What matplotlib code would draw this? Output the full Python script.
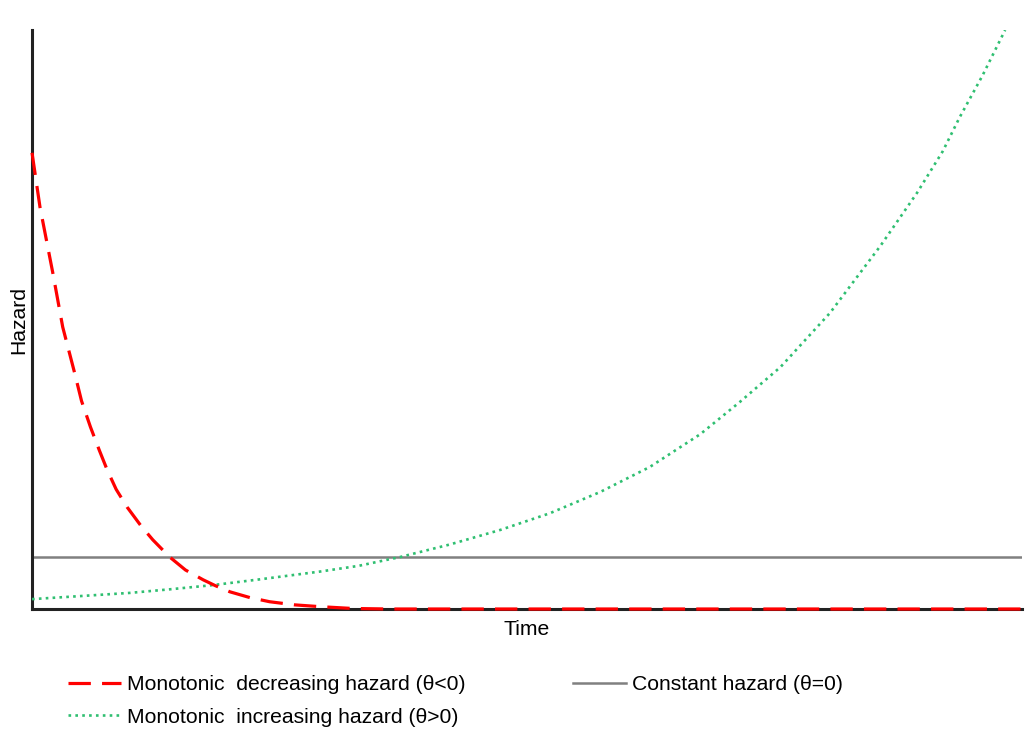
import matplotlib.pyplot as plt

plt.rcParams['font.family'] = ['Liberation Sans', 'DejaVu Sans']

t_dec = [0.0, 0.08, 0.21, 0.31, 0.43, 0.5, 0.59, 0.68, 0.76, 0.85, 0.96, 1.1,
         1.22, 1.39, 1.55, 1.73, 1.85, 2.0, 2.2, 2.4, 2.65, 2.91, 3.24, 3.6, 10.0]
h_dec = [8.77, 7.73, 6.46, 5.42, 4.54, 4.0, 3.50, 3.05, 2.67, 2.3, 1.96, 1.6,
         1.33, 1.00, 0.75, 0.56, 0.45, 0.33, 0.22, 0.14, 0.08, 0.045, 0.01, 0.0, 0.0]

t_inc = [0.0, 0.5, 0.99, 1.4, 1.83, 2.3, 2.91, 3.3, 3.72, 4.22, 4.73, 5.23,
         5.74, 6.24, 6.75, 7.15, 7.56, 8.06, 8.57, 8.94, 9.2, 9.37, 9.6, 9.83]
h_inc = [0.19, 0.25, 0.31, 0.38, 0.46, 0.57, 0.72, 0.83, 1.0, 1.24, 1.52, 1.84,
         2.25, 2.73, 3.36, 3.98, 4.65, 5.69, 6.98, 8.0, 8.8, 9.45, 10.25, 11.13]

t_const = [0.0, 10.0]
h_const = [1.0, 1.0]

fig = plt.figure(figsize=(10.3, 7.29), dpi=100)
ax = fig.add_axes([0.0311, 0.1646, 0.9611, 0.7942])

l_dec, = ax.plot(t_dec, h_dec, color='#ff0000', lw=2.3, ls=(0, (7, 3.5)),
                 zorder=4, clip_on=False, label='Monotonic  decreasing hazard (θ<0)')
l_const, = ax.plot(t_const, h_const, color='#808080', lw=1.8, zorder=2,
                   label='Constant hazard (θ=0)')
l_inc, = ax.plot(t_inc, h_inc, color='#2fbf71', lw=1.9, ls=(0, (1, 1.6)),
                 zorder=3, label='Monotonic  increasing hazard (θ>0)')

ax.set_xlim(0, 10)
ax.set_ylim(0, 11.13)
ax.set_xticks([])
ax.set_yticks([])
for s in ['top', 'right']:
    ax.spines[s].set_visible(False)
for s in ['left', 'bottom']:
    ax.spines[s].set_linewidth(2.2)
    ax.spines[s].set_color('#222222')

ax.set_xlabel('Time', fontsize=15.2, labelpad=8)
ax.set_ylabel('Hazard', fontsize=15.2, labelpad=3)

fig.legend(handles=[l_dec, l_inc, l_const], ncol=2, frameon=False,
           loc='upper left', bbox_to_anchor=(0.066, 0.074), fontsize=15.2,
           handlelength=2.5, handletextpad=0.3, columnspacing=5.1,
           labelspacing=0.65, borderpad=0, borderaxespad=0)

fig.savefig('out.png', dpi=100)
